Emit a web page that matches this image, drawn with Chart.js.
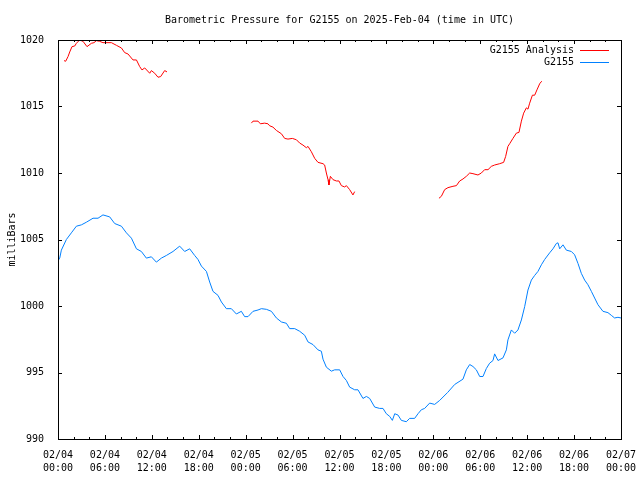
<!DOCTYPE html>
<html>
<head>
<meta charset="utf-8">
<script src="https://cdn.jsdelivr.net/npm/chart.js"></script>
<style>
  body { margin: 0; background: #fff; }
  canvas { display: block; background: #fff; }
</style>
</head>
<body>
<canvas id="myChart" width="640" height="480"></canvas>
<script>
// hours since 02/04 00:00 UTC, pressure in mb
var obsHours = [0, 0.22, 0.43, 1.07, 1.71, 2.35, 2.99, 3.63, 4.48, 5.12, 5.75, 6.61, 7.25, 8.11, 8.75, 9.39,
    10.03, 10.66, 11.30, 11.94, 12.58, 13.22, 13.86, 14.71, 15.56, 16.20, 16.84, 17.48, 17.90, 18.34, 18.98,
    19.40, 19.82, 20.46, 20.90, 21.53, 22.17, 22.81, 23.45, 23.87, 24.30, 24.94, 25.58, 26.01, 26.65, 27.29,
    27.93, 28.57, 29.21, 29.63, 30.27, 30.91, 31.55, 31.97, 32.61, 33.25, 33.68, 33.89, 34.32, 34.96, 35.38,
    36.02, 36.45, 36.88, 37.30, 37.94, 38.36, 39.00, 39.44, 39.86, 40.50, 41.14, 41.56, 41.99, 42.42, 42.76,
    43.06, 43.48, 43.91, 44.55, 44.97, 45.61, 46.04, 46.47, 46.89, 47.53, 48.17, 48.81, 49.83, 50.73, 51.79,
    52.22, 52.65, 53.07, 53.50, 53.93, 54.35, 54.78, 55.20, 55.63, 55.84, 56.27, 56.91, 57.34, 57.54, 57.98,
    58.40, 58.82, 59.26, 59.68, 60.10, 60.54, 60.96, 61.38, 61.82, 62.24, 62.88, 63.30, 63.73, 63.94, 64.16,
    64.58, 65.01, 65.65, 66.07, 66.50, 66.93, 67.35, 67.77, 68.21, 68.63, 69.05, 69.69, 70.33, 70.76, 71.18,
    71.61, 72];
var obsPressure = [1003.4, 1003.6, 1004.2, 1005.0, 1005.5, 1006.0, 1006.1, 1006.3, 1006.6, 1006.6, 1006.85,
    1006.7, 1006.2, 1006.0, 1005.5, 1005.1, 1004.3, 1004.1, 1003.6, 1003.7, 1003.3, 1003.6, 1003.8, 1004.1,
    1004.5, 1004.1, 1004.3, 1003.8, 1003.5, 1003.0, 1002.6, 1001.8, 1001.1, 1000.8, 1000.3, 999.8, 999.8,
    999.4, 999.6, 999.2, 999.2, 999.6, 999.7, 999.8, 999.75, 999.6, 999.1, 998.8, 998.7, 998.3, 998.3, 998.1,
    997.8, 997.3, 997.1, 996.7, 996.6, 996.0, 995.4, 995.1, 995.2, 995.2, 994.7, 994.4, 993.9, 993.7, 993.7,
    993.05, 993.2, 993.05, 992.4, 992.3, 992.3, 991.9, 991.7, 991.4, 991.9, 991.8, 991.4, 991.3, 991.55,
    991.55, 991.9, 992.2, 992.3, 992.7, 992.6, 992.9, 993.5, 994.1, 994.5, 995.2, 995.6, 995.45, 995.2, 994.7,
    994.7, 995.3, 995.7, 995.9, 996.4, 995.9, 996.1, 996.7, 997.45, 998.2, 997.95, 998.2, 998.95, 999.95,
    1001.2, 1001.95, 1002.3, 1002.6, 1003.1, 1003.5, 1004.0, 1004.3, 1004.7, 1004.75, 1004.3, 1004.6, 1004.2,
    1004.1, 1003.85, 1003.2, 1002.45, 1001.95, 1001.6, 1001.1, 1000.6, 1000.1, 999.6, 999.5, 999.3, 999.1,
    999.15, 999.1];

// analysis has gaps (null)
var anaHours = [0.77, 0.98, 1.28, 1.50, 1.79, 2.14, 2.35, 2.77, 3.20, 3.71, 4.27, 4.60, 4.91, 5.33, 5.75,
    6.83, 7.47, 8.11, 8.53, 8.95, 9.59, 10.03, 10.45, 10.74, 11.09, 11.73, 11.94, 12.37, 12.79, 13.13, 13.64,
    13.94, 19,
    24.73, 24.94, 25.58, 25.88, 26.43, 26.85, 27.07, 27.49, 27.93, 28.57, 28.99, 29.41, 29.97, 30.49, 30.91,
    31.33, 31.76, 31.97, 32.40, 32.83, 33.25, 33.89, 34.10, 34.32, 34.53, 34.65, 34.83, 35.17, 35.60, 35.93,
    36.24, 36.66, 36.88, 37.30, 37.72, 37.94, 43,
    48.72, 49.03, 49.45, 49.87, 50.51, 50.95, 51.37, 51.79, 52.22, 52.65, 53.07, 53.71, 54.14, 54.56, 54.99,
    55.42, 55.84, 56.48, 56.99, 57.25, 57.54, 57.76, 58.18, 58.62, 58.95, 59.26, 59.55, 59.90, 60.10, 60.32,
    60.67, 60.96, 61.25, 61.63, 61.89];
var anaPressure = [1018.45, 1018.4, 1018.75, 1019.1, 1019.5, 1019.55, 1019.75, 1020.0, 1019.9, 1019.5,
    1019.75, 1019.8, 1019.95, 1019.9, 1019.8, 1019.8, 1019.6, 1019.4, 1019.05, 1018.95, 1018.5, 1018.5,
    1018.0, 1017.75, 1017.9, 1017.5, 1017.7, 1017.5, 1017.2, 1017.25, 1017.7, 1017.6, null,
    1013.75, 1013.9, 1013.9, 1013.7, 1013.75, 1013.7, 1013.55, 1013.45, 1013.2, 1012.95, 1012.6, 1012.55,
    1012.6, 1012.5, 1012.25, 1012.1, 1011.9, 1012.0, 1011.6, 1011.1, 1010.8, 1010.7, 1010.6, 1010.0, 1009.5,
    1009.1, 1009.75, 1009.5, 1009.4, 1009.4, 1009.05, 1008.95, 1009.05, 1008.75, 1008.35, 1008.6, null,
    1008.1, 1008.25, 1008.75, 1008.9, 1009.0, 1009.05, 1009.4, 1009.55, 1009.75, 1010.0, 1009.95, 1009.85,
    1010.0, 1010.25, 1010.25, 1010.5, 1010.6, 1010.7, 1010.8, 1011.25, 1012.0, 1012.2, 1012.6, 1013.0,
    1013.05, 1013.9, 1014.5, 1014.9, 1014.8, 1015.25, 1015.85, 1015.85, 1016.25, 1016.75, 1016.9];

var tickDates = ['02/04', '02/04', '02/04', '02/04', '02/05', '02/05', '02/05', '02/05',
    '02/06', '02/06', '02/06', '02/06', '02/07'];
var tickTimes = ['00:00', '06:00', '12:00', '18:00', '00:00', '06:00', '12:00', '18:00',
    '00:00', '06:00', '12:00', '18:00', '00:00'];

var seriesNames = ['G2155 Analysis', 'G2155'];
var seriesColors = ['#ff0000', '#0080ff'];

function toPoints(xs, ys) {
    var pts = [];
    for (var i = 0; i < xs.length; i++) {
        pts.push({ x: xs[i], y: ys[i] });
    }
    return pts;
}

var monoFont = { family: 'DejaVu Sans Mono', size: 10, weight: 'normal', lineHeight: 1.2 };

// gnuplot style box, inward ticks and legend
var framePlugin = {
    id: 'frame',
    afterDraw: function (chart) {
        var ctx = chart.ctx;
        var a = chart.chartArea;
        var xs = chart.scales.x;
        var ys = chart.scales.y;
        ctx.save();
        ctx.strokeStyle = '#000';
        ctx.lineWidth = 1;
        ctx.strokeRect(a.left + 0.5, a.top + 0.5, a.right - a.left, a.bottom - a.top);
        ctx.beginPath();
        for (var h = 0; h <= 72; h += 2) {
            var px = Math.round(xs.getPixelForValue(h)) + 0.5;
            var len = (h % 6 === 0) ? 4 : 2;
            ctx.moveTo(px, a.bottom);
            ctx.lineTo(px, a.bottom - len);
            ctx.moveTo(px, a.top);
            ctx.lineTo(px, a.top + len);
        }
        for (var v = 990; v <= 1020; v += 5) {
            var py = Math.round(ys.getPixelForValue(v)) + 0.5;
            ctx.moveTo(a.left, py);
            ctx.lineTo(a.left + 4, py);
            ctx.moveTo(a.right, py);
            ctx.lineTo(a.right - 4, py);
        }
        ctx.stroke();

        ctx.font = '10px "DejaVu Sans Mono"';
        ctx.textAlign = 'right';
        ctx.textBaseline = 'middle';
        for (var i = 0; i < seriesNames.length; i++) {
            var ly = a.top + 10.5 + i * 12;
            ctx.fillStyle = '#000';
            ctx.fillText(seriesNames[i], a.right - 47, ly);
            ctx.strokeStyle = seriesColors[i];
            ctx.beginPath();
            ctx.moveTo(a.right - 41, ly);
            ctx.lineTo(a.right - 12, ly);
            ctx.stroke();
        }
        ctx.restore();
    }
};

const ctx = document.getElementById('myChart');
new Chart(ctx, {
    type: 'line',
    data: {
        datasets: [{
            label: seriesNames[0],
            data: toPoints(anaHours, anaPressure),
            borderColor: seriesColors[0],
            borderWidth: 1,
            pointRadius: 0,
            tension: 0,
            spanGaps: false,
            fill: false
        }, {
            label: seriesNames[1],
            data: toPoints(obsHours, obsPressure),
            borderColor: seriesColors[1],
            borderWidth: 1,
            pointRadius: 0,
            tension: 0,
            fill: false
        }]
    },
    options: {
        responsive: false,
        animation: false,
        devicePixelRatio: 1,
        layout: { padding: { left: 0, right: 19, top: 0, bottom: 0 } },
        plugins: {
            legend: { display: false },
            tooltip: { enabled: false },
            title: {
                display: true,
                text: 'Barometric Pressure for G2155 on 2025-Feb-04 (time in UTC)',
                color: '#000',
                font: monoFont,
                fullSize: false,
                padding: { top: 14, bottom: 14 }
            }
        },
        scales: {
            x: {
                type: 'linear',
                min: 0,
                max: 72,
                grid: { display: false },
                border: { display: false },
                ticks: {
                    stepSize: 6,
                    autoSkip: false,
                    maxRotation: 0,
                    padding: 2,
                    color: '#000',
                    font: { family: 'DejaVu Sans Mono', size: 10, weight: 'normal', lineHeight: 1.3 },
                    callback: function (value) {
                        var i = Math.round(value / 6);
                        return [tickDates[i], tickTimes[i]];
                    }
                },
                afterFit: function (scale) {
                    scale.height = 41;
                    scale.paddingLeft = 0;
                    scale.paddingRight = 0;
                }
            },
            y: {
                type: 'linear',
                min: 990,
                max: 1020,
                grid: { display: false },
                border: { display: false },
                ticks: {
                    stepSize: 5,
                    padding: 6,
                    color: '#000',
                    font: monoFont,
                    callback: function (value) { return String(value); }
                },
                title: {
                    display: true,
                    text: 'milliBars',
                    color: '#000',
                    font: monoFont,
                    padding: { top: 6, bottom: 4 }
                },
                afterFit: function (scale) { scale.width = 58; }
            }
        }
    },
    plugins: [framePlugin]
});
</script>
</body>
</html>
